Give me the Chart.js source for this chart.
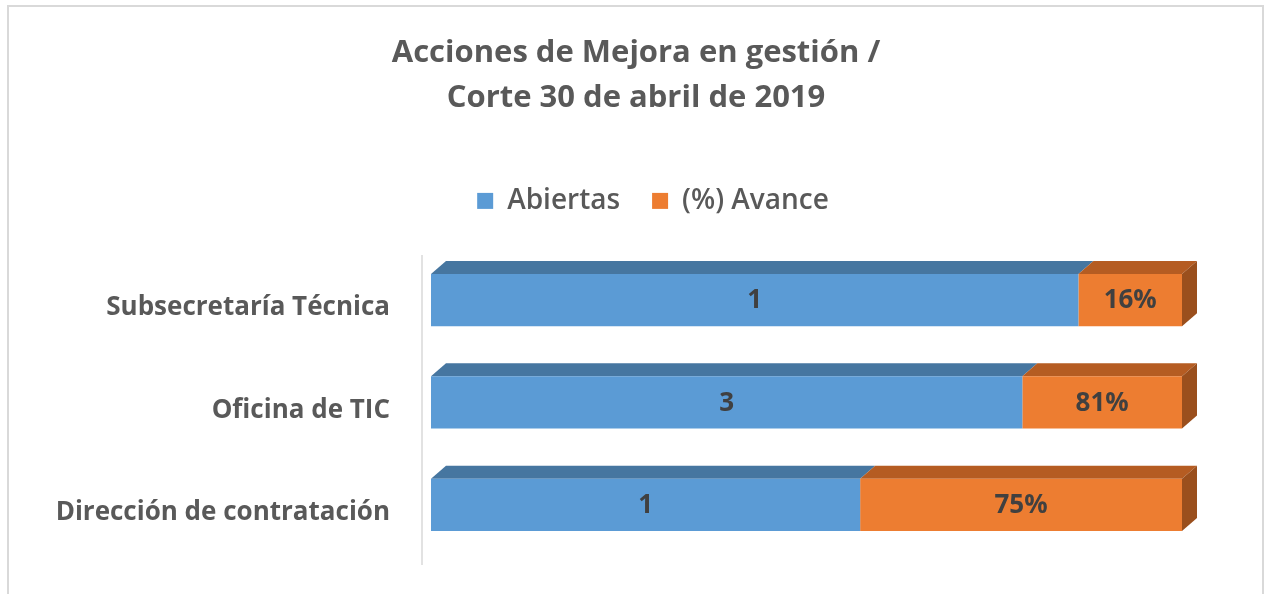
<!DOCTYPE html>
<html>
<head>
<meta charset="utf-8">
<script src="https://cdn.jsdelivr.net/npm/chart.js@4.4.1/dist/chart.umd.min.js"></script>
<style>
  html, body { margin: 0; padding: 0; background: #fff; }
  #wrap { position: relative; width: 1266px; height: 594px; overflow: hidden; }
  #frame { position: absolute; left: 7px; top: 5px; width: 1257px; height: 620px; border: 2px solid #d9d9d9; box-sizing: border-box; }
  canvas { position: absolute; left: 0; top: 0; }
</style>
</head>
<body>
<div id="wrap">
  <div id="frame"></div>
  <canvas id="c" width="1266" height="594"></canvas>
</div>
<script>
const categories = ["Subsecretaría Técnica", "Oficina de TIC", "Dirección de contratación"];
const abiertas = [1, 3, 1];
const avance = [0.16, 0.81, 0.75];
const seriesNames = ["Abiertas", "(%) Avance"];
const titleLines = ["Acciones de Mejora en gestión /", "Corte 30 de abril de 2019"];

// 100% stacked shares (as in the original 100% stacked chart)
const totals = abiertas.map((v, i) => v + avance[i]);
const abiertasShare = abiertas.map((v, i) => v / totals[i] * 100);
const avanceShare = avance.map((v, i) => v / totals[i] * 100);

const FONT = "'Open Sans', sans-serif";
const DX = 15, DY = 13;

const faces = {
  top: ["#4676A0", "#B55C22"],
  side: ["#3F6C93", "#9A4F1D"]
};

const threeD = {
  id: 'threeD',
  afterLayout(chart) {
    // centre title on the whole frame, legend slightly right of it (as in Excel)
    if (chart.titleBlock) { chart.titleBlock.left += 35; chart.titleBlock.right += 35; }
    if (chart.legend) { chart.legend.left += 52; chart.legend.right += 52; }
  },
  beforeDatasetsDraw(chart) {
    const ctx = chart.ctx;
    ctx.save();
    const n = chart.data.datasets.length;
    chart.data.datasets.forEach((ds, di) => {
      const meta = chart.getDatasetMeta(di);
      meta.data.forEach((bar) => {
        const p = bar.getProps(['x', 'y', 'base', 'height'], true);
        const x0 = Math.min(p.base, p.x), x1 = Math.max(p.base, p.x);
        const top = p.y - p.height / 2, bot = p.y + p.height / 2;
        ctx.fillStyle = faces.top[di];
        ctx.beginPath();
        ctx.moveTo(x0, top);
        ctx.lineTo(x0 + DX, top - DY);
        ctx.lineTo(x1 + DX, top - DY);
        ctx.lineTo(x1, top);
        ctx.closePath();
        ctx.fill();
        if (di === n - 1) {
          ctx.fillStyle = faces.side[di];
          ctx.beginPath();
          ctx.moveTo(x1, top);
          ctx.lineTo(x1 + DX, top - DY);
          ctx.lineTo(x1 + DX, bot - DY);
          ctx.lineTo(x1, bot);
          ctx.closePath();
          ctx.fill();
        }
      });
    });
    const ca = chart.chartArea;
    ctx.strokeStyle = '#d9d9d9';
    ctx.lineWidth = 1.5;
    ctx.beginPath();
    ctx.moveTo(ca.left - 9, ca.top + 6);
    ctx.lineTo(ca.left - 9, ca.bottom + 9);
    ctx.stroke();
    ctx.restore();
  },
  afterDatasetsDraw(chart) {
    const ctx = chart.ctx;
    ctx.save();
    ctx.font = "bold 26px " + FONT;
    ctx.fillStyle = "#404040";
    ctx.textAlign = 'center';
    ctx.textBaseline = 'middle';
    chart.data.datasets.forEach((ds, di) => {
      const meta = chart.getDatasetMeta(di);
      meta.data.forEach((bar, i) => {
        const p = bar.getProps(['x', 'y', 'base'], true);
        const cx = (p.x + p.base) / 2;
        const label = di === 0 ? String(abiertas[i]) : Math.round(avance[i] * 100) + "%";
        ctx.fillText(label, cx, p.y + 1);
      });
    });
    ctx.restore();
  }
};

new Chart(document.getElementById('c'), {
  type: 'bar',
  data: {
    labels: categories,
    datasets: [
      { label: seriesNames[0], data: abiertasShare, backgroundColor: "#5B9BD5", borderWidth: 0 },
      { label: seriesNames[1], data: avanceShare, backgroundColor: "#ED7D31", borderWidth: 0 }
    ]
  },
  options: {
    indexAxis: 'y',
    responsive: false,
    animation: false,
    devicePixelRatio: 1,
    layout: { padding: { left: 20, right: 84, top: 0, bottom: 38 } },
    datasets: { bar: { barPercentage: 0.51, categoryPercentage: 1.0 } },
    scales: {
      x: {
        stacked: true, min: 0, max: 100, position: 'top',
        grid: { display: false, drawTicks: false },
        border: { display: false },
        ticks: { display: false },
        afterFit(s) { s.height = 24; }
      },
      y: {
        stacked: true,
        grid: { display: false, drawTicks: false },
        border: { display: false },
        ticks: { color: "#595959", font: { family: FONT, size: 26, weight: 'bold' }, padding: 41, labelOffset: 8 },
        afterFit(s) { s.width = 411; s.paddingTop = 0; s.paddingBottom = 0; }
      }
    },
    plugins: {
      title: {
        display: true,
        text: titleLines,
        color: "#595959",
        font: { family: FONT, size: 31, weight: 'bold', lineHeight: 1.45 },
        padding: { top: 31, bottom: 34 }
      },
      legend: {
        display: true,
        labels: {
          color: "#595959",
          font: { family: FONT, size: 28, weight: '600' },
          boxWidth: 16, boxHeight: 16, padding: 32
        }
      },
      tooltip: { enabled: false }
    }
  },
  plugins: [threeD]
});
</script>
</body>
</html>
